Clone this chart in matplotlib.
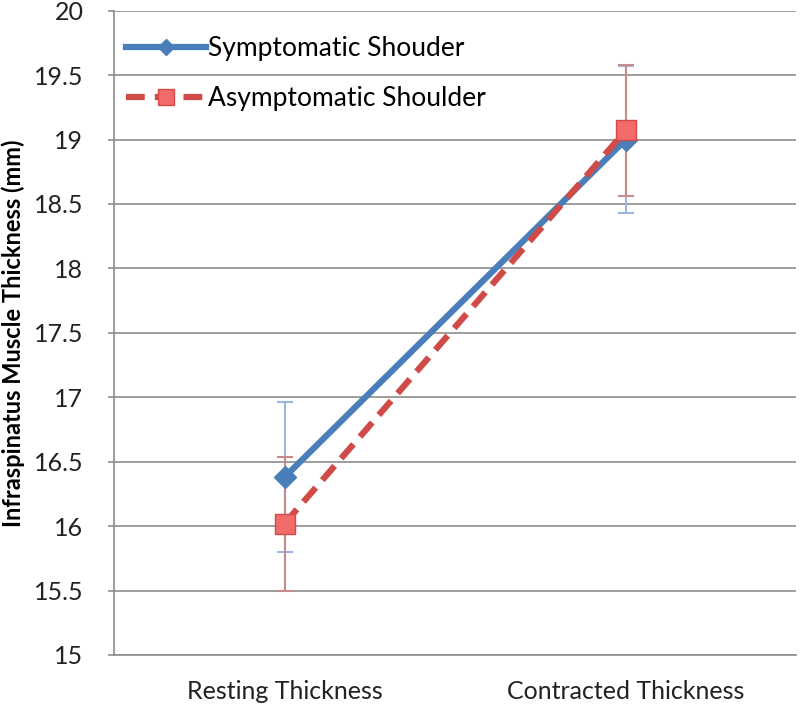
import matplotlib
matplotlib.use("Agg")
import matplotlib.pyplot as plt

categories = ["Resting Thickness", "Contracted Thickness"]
symp = [16.38, 19.00]
symp_err = [0.58, 0.57]
asymp = [16.02, 19.07]
asymp_err = [0.52, 0.51]
yticks = [15, 15.5, 16, 16.5, 17, 17.5, 18, 18.5, 19, 19.5, 20]

plt.rcParams['font.family'] = ['Lato', 'DejaVu Sans']
fig = plt.figure(figsize=(8, 7.09), dpi=100)
ax = fig.add_axes([0.1425, 0.0762, 0.853, 0.9088])
x = list(range(len(categories)))

ax.errorbar(x, symp, yerr=symp_err, fmt='none', ecolor='#9BB7DD', elinewidth=1.5,
            capsize=6, capthick=1.5, zorder=2)
ax.errorbar(x, asymp, yerr=asymp_err, fmt='none', ecolor='#C98A8C', elinewidth=1.5,
            capsize=6, capthick=1.5, zorder=2)
ax.plot(x, symp, color='#4A7EBB', lw=4.5, marker='D', ms=11, mfc='#4A7EBB', mec='#4A7EBB',
        label='Symptomatic Shouder', zorder=3)
ax.plot(x, asymp, color='#D04A48', lw=4.5, ls=(0, (3, 1.6)), marker='s', ms=15, mfc='#F26B6B',
        mec='#D04A48', label='Asymptomatic Shoulder', zorder=4)

ax.set_xlim(-0.5, 1.5)
ax.set_ylim(15, 20)
ax.set_yticks(yticks)
ax.set_yticklabels([f"{t:g}" for t in yticks])
ax.set_xticks(x)
ax.set_xticklabels(categories)
ax.yaxis.grid(True, color='#8C8C8C', lw=1.2)
ax.set_axisbelow(True)
for s in ['top', 'right']:
    ax.spines[s].set_visible(False)
ax.spines['left'].set_color('#8C8C8C')
ax.spines['bottom'].set_color('#8C8C8C')
ax.spines['left'].set_linewidth(1.2)
ax.spines['bottom'].set_linewidth(1.2)
ax.tick_params(axis='y', colors='#8C8C8C', labelcolor='#222222', labelsize=18, length=4, width=1.2, pad=18)
ax.tick_params(axis='x', length=0, labelcolor='#222222', labelsize=18, pad=18)
ax.set_ylabel('Infraspinatus Muscle Thickness (mm)', fontsize=17, fontweight='bold', labelpad=6)

leg = ax.legend(loc='upper left', bbox_to_anchor=(-0.005, 0.985), frameon=False, fontsize=19,
                handlelength=3.0, handletextpad=0.1, labelspacing=0.95, borderaxespad=0.2,
                markerscale=0.75)
fig.savefig('out.png', dpi=100)
